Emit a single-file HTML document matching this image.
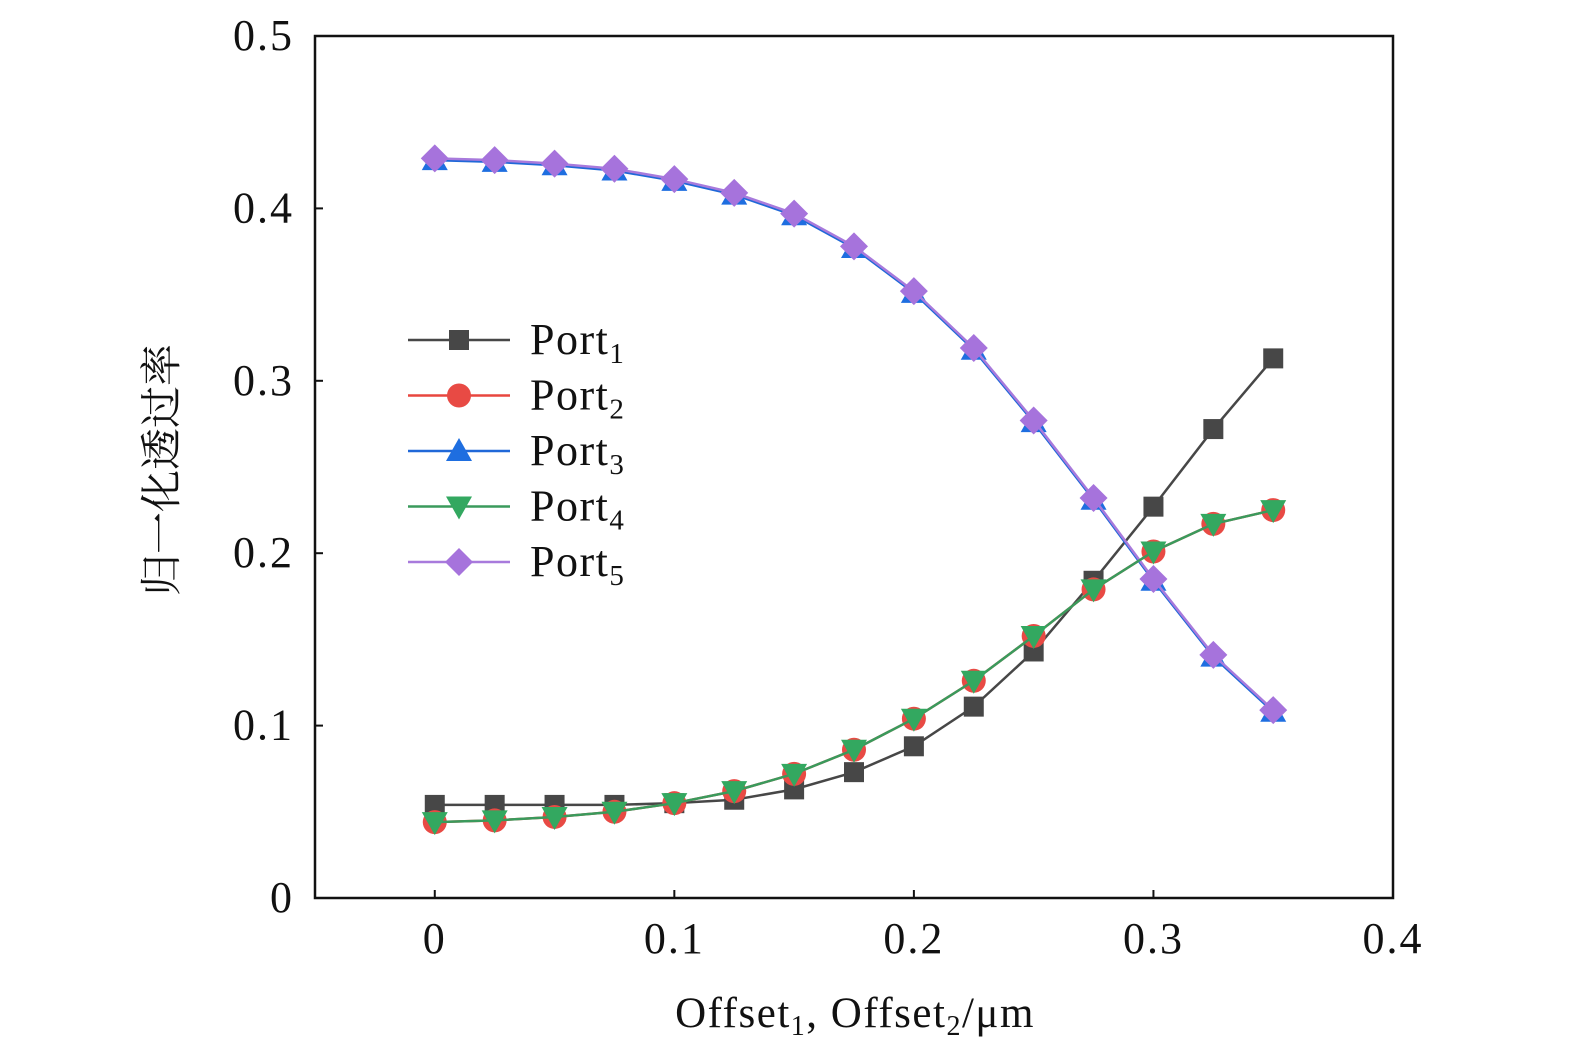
<!DOCTYPE html>
<html><head><meta charset="utf-8"><style>
html,body{margin:0;padding:0;background:#fff;overflow:hidden;width:1575px;height:1063px}
svg{display:block}
svg text{font-family:"Liberation Serif","Noto Serif CJK SC",serif;fill:#111}
</style></head><body>
<svg id="chart" width="1575" height="1063" viewBox="0 0 1575 1063">
<rect x="315" y="36" width="1078" height="862" fill="none" stroke="#111" stroke-width="2.5"/>
<g id="xticks"></g>
<g id="yticks"></g>
<g id="series"></g>
<g id="legend"></g>
<text x="855" y="1027" font-size="43" letter-spacing="1.5" text-anchor="middle">Offset<tspan font-size="28" dy="8">1</tspan><tspan dy="-8">, Offset</tspan><tspan font-size="28" dy="8">2</tspan><tspan dy="-8">/μm</tspan></text>
<text transform="translate(176,470) rotate(-90)" font-size="42" text-anchor="middle">归一化透过率</text>
</svg>
<script>
const xValues=[0,0.025,0.05,0.075,0.1,0.125,0.15,0.175,0.2,0.225,0.25,0.275,0.3,0.325,0.35];
const port1=[0.054,0.054,0.054,0.054,0.055,0.057,0.063,0.073,0.088,0.111,0.143,0.184,0.227,0.272,0.313];
const port2=[0.044,0.045,0.047,0.050,0.055,0.062,0.072,0.086,0.104,0.126,0.152,0.179,0.201,0.217,0.225];
const port3=[0.428,0.427,0.425,0.422,0.416,0.408,0.396,0.377,0.351,0.318,0.276,0.231,0.184,0.140,0.108];
const port4=[0.044,0.045,0.047,0.050,0.055,0.062,0.072,0.086,0.104,0.126,0.152,0.179,0.201,0.217,0.225];
const port5=[0.429,0.428,0.426,0.423,0.417,0.409,0.397,0.378,0.352,0.319,0.277,0.232,0.185,0.141,0.109];
const xTicks=[0,0.1,0.2,0.3,0.4];
const xTickLabels=["0","0.1","0.2","0.3","0.4"];
const yTicks=[0,0.1,0.2,0.3,0.4,0.5];
const yTickLabels=["0","0.1","0.2","0.3","0.4","0.5"];
const seriesNames=["Port1","Port2","Port3","Port4","Port5"];

const NS="http://www.w3.org/2000/svg";
const X=v=>315+(v+0.05)/0.45*1078;
const Y=v=>898-v/0.5*862;
function mk(tag,attrs,parent){const e=document.createElementNS(NS,tag);for(const k in attrs)e.setAttribute(k,attrs[k]);parent.appendChild(e);return e;}
const gx=document.getElementById('xticks'),gy=document.getElementById('yticks'),gs=document.getElementById('series'),gl=document.getElementById('legend');
xTicks.forEach((t,i)=>{
 const l=mk('line',{x1:X(t),x2:X(t),y1:898,y2:890,stroke:'#111','stroke-width':2},gx);
 
 
 const tx=mk('text',{x:X(t),y:953,'font-size':44,'letter-spacing':2,'text-anchor':'middle'},gx);tx.textContent=xTickLabels[i];
 
 
});
yTicks.forEach((t,i)=>{
 const l=mk('line',{x1:315,x2:323,y1:Y(t),y2:Y(t),stroke:'#111','stroke-width':2},gy);
 
 
 const tx=mk('text',{x:294,y:Y(t)+14,'font-size':44,'letter-spacing':2,'text-anchor':'end'},gy);tx.textContent=yTickLabels[i];
 
 
});
function marker(type,cx,cy,color,parent){
 let e;
 if(type==='sq')e=mk('rect',{x:cx-10,y:cy-10,width:20,height:20,fill:color},parent);
 else if(type==='ci')e=mk('circle',{cx:cx,cy:cy,r:12,fill:color},parent);
 else if(type==='up')e=mk('polygon',{points:`${cx},${cy-13} ${cx+13},${cy+10} ${cx-13},${cy+10}`,fill:color},parent);
 else if(type==='dn')e=mk('polygon',{points:`${cx-13},${cy-10} ${cx+13},${cy-10} ${cx},${cy+13}`,fill:color},parent);
 else e=mk('polygon',{points:`${cx},${cy-14} ${cx+14},${cy} ${cx},${cy+14} ${cx-14},${cy}`,fill:color},parent);
 return e;
}
const defs=[[port1,'#474747','#474747','sq'],[port2,'#e8463f','#e84a44','ci'],[port3,'#2068d8','#1e6ee0','up'],[port4,'#3a9a5c','#33a860','dn'],[port5,'#a87adc','#a673dc','di']];
const order=[0,1,2,4,3];
order.forEach(si=>{
 const [vals,lc,mc,mt]=defs[si];
 const g=mk('g',{},gs);
 
 
 const p=mk('polyline',{points:vals.map((v,i)=>X(xValues[i])+','+Y(v)).join(' '),fill:'none',stroke:lc,'stroke-width':2.5},g);
 
 
 vals.forEach((v,i)=>{
  const m=marker(mt,X(xValues[i]),Y(v),mc,g);
  
  
 });
});
defs.forEach((d,i)=>{
 const y=340+i*55.5;
 const g=mk('g',{},gl);
 
 
 mk('line',{x1:408,x2:510,y1:y,y2:y,stroke:d[1],'stroke-width':2.5},g);
 marker(d[3],459,y,d[2],g);
 const t=mk('text',{x:530,y:y+14,'font-size':44,'letter-spacing':1.5},g);
 t.innerHTML='Port<tspan font-size="29" dy="9">'+(i+1)+'</tspan>';
});
</script>
</body></html>
